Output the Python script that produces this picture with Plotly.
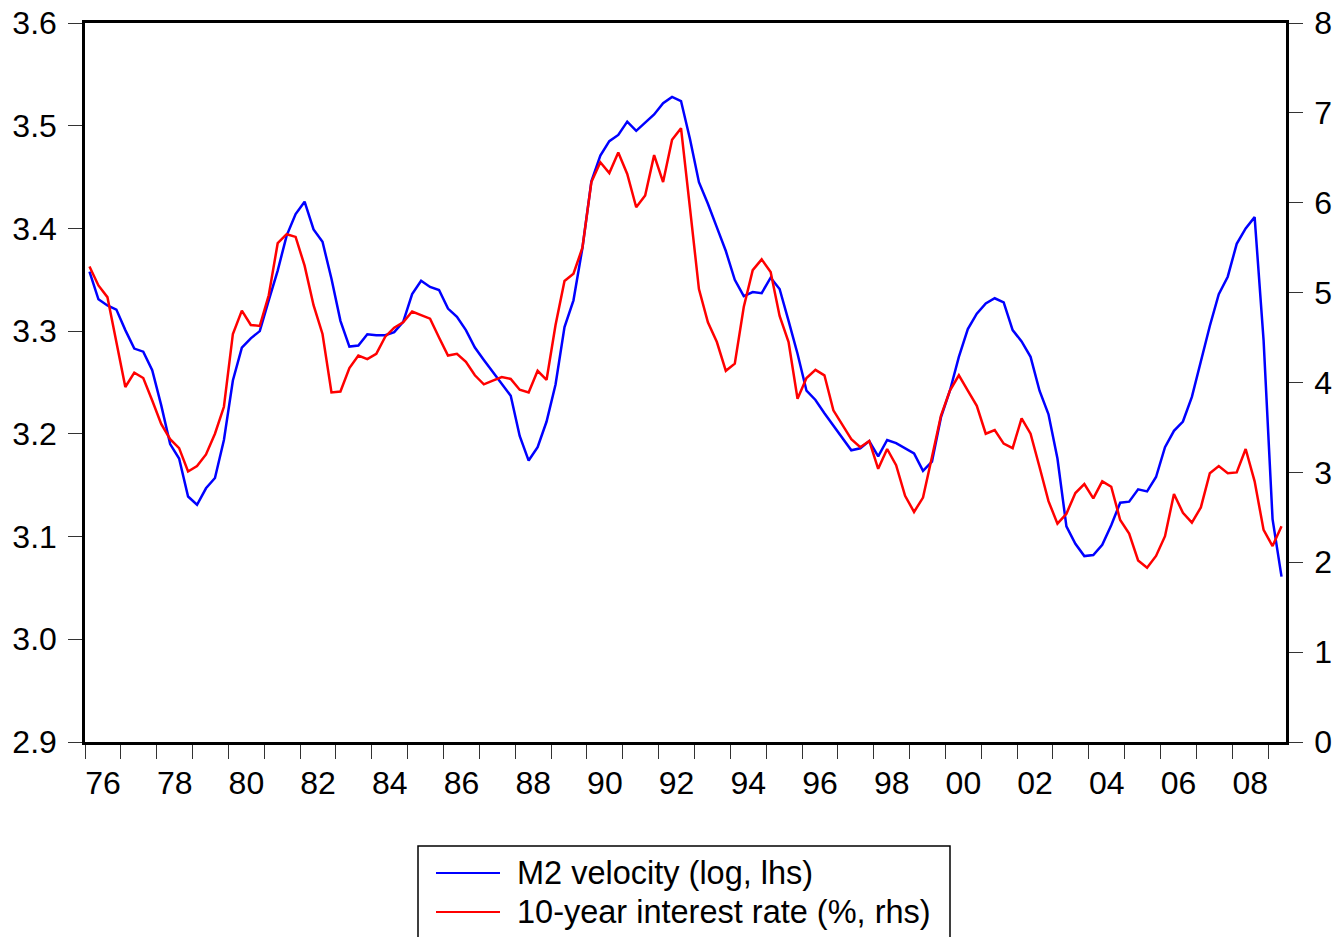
import plotly.graph_objects as go

# Quarterly observations 1976Q1 .. 2009Q2
quarters = [f"{y}Q{q}" for y in range(1976, 2010) for q in range(1, 5)][:134]

m2_velocity_log = [
    3.358, 3.331, 3.325, 3.321, 3.301, 3.283, 3.280, 3.262, 3.228, 3.190,
    3.176, 3.139, 3.131, 3.147, 3.157, 3.194, 3.252, 3.284, 3.293, 3.300,
    3.330, 3.359, 3.393, 3.414, 3.426, 3.399, 3.387, 3.351, 3.310, 3.285,
    3.286, 3.297, 3.296, 3.296, 3.299, 3.309, 3.336, 3.349, 3.343, 3.340,
    3.322, 3.314, 3.301, 3.284, 3.272, 3.260, 3.249, 3.237, 3.198, 3.174,
    3.187, 3.212, 3.248, 3.304, 3.330, 3.381, 3.446, 3.471, 3.485, 3.491,
    3.504, 3.495, 3.503, 3.511, 3.522, 3.528, 3.524, 3.487, 3.445, 3.424,
    3.401, 3.378, 3.350, 3.334, 3.338, 3.337, 3.352, 3.341, 3.310, 3.278,
    3.242, 3.233, 3.220, 3.208, 3.197, 3.184, 3.186, 3.193, 3.178, 3.194,
    3.191, 3.186, 3.181, 3.164, 3.173, 3.216, 3.242, 3.275, 3.302, 3.317,
    3.327, 3.332, 3.328, 3.301, 3.290, 3.275, 3.242, 3.219, 3.176, 3.110,
    3.093, 3.081, 3.082, 3.092, 3.111, 3.133, 3.134, 3.146, 3.144, 3.158,
    3.187, 3.203, 3.212, 3.236, 3.271, 3.305, 3.336, 3.353, 3.385, 3.400,
    3.411, 3.291, 3.117, 3.061,
]

interest_10y = [
    5.29, 5.08, 4.95, 4.45, 3.95, 4.11, 4.05, 3.80, 3.54, 3.37,
    3.27, 3.01, 3.07, 3.20, 3.43, 3.73, 4.54, 4.80, 4.64, 4.63,
    4.97, 5.55, 5.65, 5.62, 5.30, 4.86, 4.54, 3.89, 3.90, 4.16,
    4.30, 4.26, 4.32, 4.51, 4.61, 4.67, 4.79, 4.75, 4.71, 4.50,
    4.30, 4.32, 4.23, 4.08, 3.98, 4.02, 4.06, 4.04, 3.92, 3.89,
    4.13, 4.03, 4.64, 5.13, 5.21, 5.50, 6.23, 6.45, 6.33, 6.56,
    6.32, 5.95, 6.08, 6.53, 6.23, 6.70, 6.83, 5.94, 5.04, 4.67,
    4.45, 4.13, 4.21, 4.84, 5.25, 5.37, 5.23, 4.74, 4.45, 3.82,
    4.05, 4.14, 4.08, 3.69, 3.53, 3.37, 3.28, 3.35, 3.04, 3.26,
    3.08, 2.74, 2.56, 2.72, 3.17, 3.63, 3.91, 4.08, 3.91, 3.74,
    3.43, 3.47, 3.32, 3.27, 3.60, 3.43, 3.06, 2.68, 2.43, 2.54,
    2.77, 2.87, 2.71, 2.90, 2.84, 2.47, 2.32, 2.02, 1.94, 2.07,
    2.29, 2.76, 2.55, 2.44, 2.61, 2.99, 3.07, 2.99, 3.00, 3.26,
    2.90, 2.36, 2.18, 2.40,
]

year_ticks = list(range(1976, 2010))
year_labels = [f"{y % 100:02d}" if (y % 2 == 0 and y < 2009) else "" for y in year_ticks]

series_names = ["M2 velocity (log, lhs)", "10-year interest rate (%, rhs)"]
series_colors = ["#0000FF", "#FF0000"]

# numeric time: centre of each quarter
x_time = [int(q[:4]) + (int(q[-1]) - 0.5) / 4 for q in quarters]

FONT = "Liberation Sans, Arial, sans-serif"

fig = go.Figure()
fig.add_trace(go.Scatter(x=x_time, y=m2_velocity_log, mode="lines",
                         line=dict(color=series_colors[0], width=2.5),
                         name=series_names[0], yaxis="y", showlegend=False))
fig.add_trace(go.Scatter(x=x_time, y=interest_10y, mode="lines",
                         line=dict(color=series_colors[1], width=2.5),
                         name=series_names[1], yaxis="y2", showlegend=False))

W, H = 1337, 937
L, R, T, B = 85, 51, 23, 195
pw = W - L - R
ph = H - T - B

def px_x(p):
    return (p - L) / pw

def px_y(p):
    return (H - B - p) / ph

TICKC = "#333333"
fig.update_layout(
    width=W, height=H,
    margin=dict(l=L, r=R, t=T, b=B, autoexpand=False),
    paper_bgcolor="white", plot_bgcolor="white",
    font=dict(family=FONT, size=32, color="black"),
    xaxis=dict(range=[1976, 2009.5], tickmode="array", tickvals=year_ticks,
               ticktext=year_labels, ticklabelshift=18, ticklabelstandoff=-3,
               ticks="outside",
               ticklen=14, tickwidth=1.2, tickcolor=TICKC,
               showline=True, linewidth=2.5, linecolor="black", mirror=True,
               showgrid=False, zeroline=False, tickfont=dict(size=32),
               automargin=False),
    yaxis=dict(range=[2.9, 3.6], dtick=0.1, tick0=2.9, tickformat=".1f",
               ticks="outside", ticklen=14, tickwidth=1.2, tickcolor=TICKC,
               ticklabelstandoff=5,
               showline=True, linewidth=2.5, linecolor="black",
               showgrid=False, zeroline=False, tickfont=dict(size=32),
               automargin=False),
    yaxis2=dict(range=[0, 8], dtick=1, tick0=0, overlaying="y", side="right",
                ticks="outside", ticklen=14, tickwidth=1.2, tickcolor=TICKC,
                ticklabelstandoff=5,
                showline=True, linewidth=2.5, linecolor="black",
                showgrid=False, zeroline=False, tickfont=dict(size=32),
                automargin=False),
    showlegend=False,
)

# manual legend box
shapes = [dict(type="rect", xref="paper", yref="paper",
               x0=px_x(418), x1=px_x(950), y0=px_y(846), y1=px_y(960),
               line=dict(color="black", width=1.5), fillcolor="white", layer="above")]
annotations = []
for k, (name, col) in enumerate(zip(series_names, series_colors)):
    yy = 873 + 39 * k
    shapes.append(dict(type="line", xref="paper", yref="paper",
                       x0=px_x(436), x1=px_x(500), y0=px_y(yy), y1=px_y(yy),
                       line=dict(color=col, width=2)))
    annotations.append(dict(xref="paper", yref="paper", x=px_x(515), y=px_y(yy),
                            text=name, showarrow=False, xanchor="left", yanchor="middle",
                            font=dict(family=FONT, size=32.5, color="black")))
fig.update_layout(shapes=shapes, annotations=annotations)

fig.write_html("out.html", config={"displayModeBar": False},
               post_script="document.body.style.margin='0';document.body.style.overflow='hidden';")
